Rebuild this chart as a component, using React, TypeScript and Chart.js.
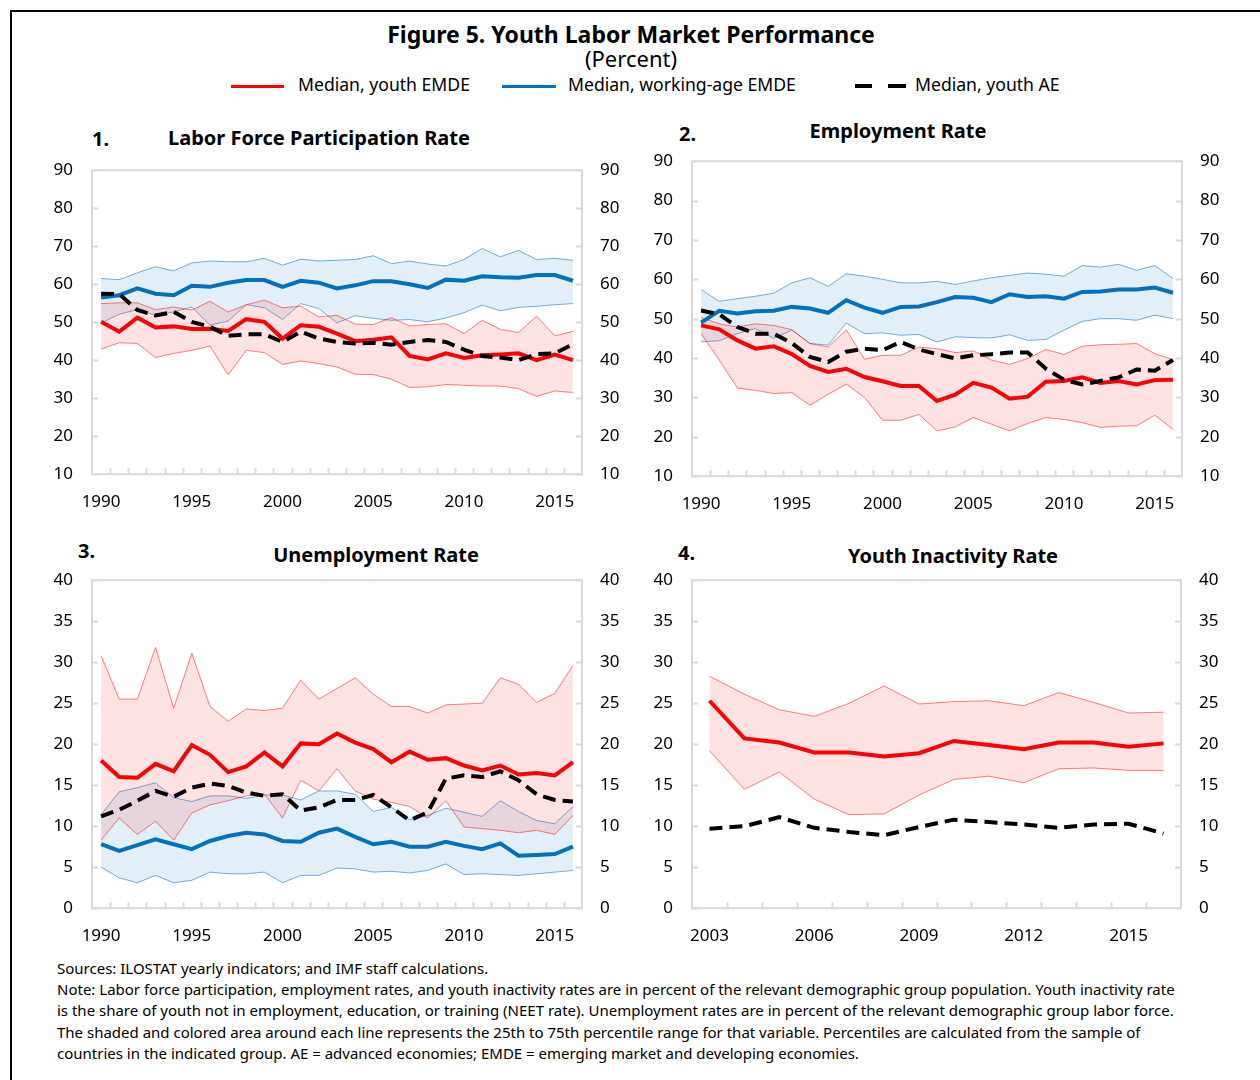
import React, { useEffect, useRef } from "react";
import { Chart, registerables } from "chart.js";
Chart.register(...registerables);

// ---------- categories ----------
const YEARS_LONG = ["1990","1991","1992","1993","1994","1995","1996","1997","1998","1999","2000","2001","2002","2003","2004","2005","2006","2007","2008","2009","2010","2011","2012","2013","2014","2015","2016"];
const YEARS_SHORT = ["2003","2004","2005","2006","2007","2008","2009","2010","2011","2012","2013","2014","2015","2016"];
const TICKS_LONG = ["1990","1995","2000","2005","2010","2015"];
const TICKS_SHORT = ["2003","2006","2009","2012","2015"];

// ---------- Panel 1: Labor force participation rate ----------
const P1_YOUTH_EMDE = [50.1,47.5,51.2,48.6,48.9,48.2,48.3,47.7,50.8,50.1,45.7,49.2,48.8,47.0,45.0,45.4,46.0,41.1,40.2,41.8,40.6,41.3,41.5,41.8,40.0,41.5,40.0];
const P1_WORKING_EMDE = [56.5,57.1,58.9,57.5,57.1,59.6,59.3,60.4,61.1,61.1,59.3,60.9,60.4,58.9,59.7,60.8,60.8,60.0,59.0,61.2,60.9,62.1,61.8,61.7,62.4,62.4,60.9];
const P1_YOUTH_AE = [57.5,57.4,53.2,51.8,52.7,50.1,48.8,46.4,46.8,46.8,44.8,47.5,45.7,44.8,44.4,44.6,44.1,44.8,45.3,44.8,42.8,41.1,40.7,40.0,41.6,41.8,44.2];
const P1_YOUTH_P75 = [54.9,55.1,55.1,53.3,54.0,53.2,55.5,52.7,54.6,55.8,53.8,54.2,51.4,51.8,49.5,49.4,51.2,49.0,49.4,49.6,47.0,50.5,48.1,47.3,51.6,46.4,47.6];
const P1_YOUTH_P25 = [42.9,44.6,44.4,40.7,41.8,42.6,43.7,36.1,42.6,42.0,38.9,39.8,39.1,38.2,36.3,36.2,35.0,32.8,33.0,33.6,33.4,33.2,33.2,32.5,30.5,31.9,31.5];
const P1_WORKING_P75 = [61.5,61.2,63.0,64.6,63.5,65.6,66.1,65.9,65.9,66.8,65.0,66.6,66.1,66.3,66.5,67.5,65.4,66.1,65.3,64.8,66.5,69.4,67.2,68.9,66.5,66.8,66.3];
const P1_WORKING_P25 = [49.8,52.1,53.3,51.8,52.7,54.0,49.2,50.3,54.6,53.8,50.7,54.9,53.6,49.8,51.7,51.0,50.5,50.7,50.1,51.1,52.5,54.5,53.0,53.9,54.2,54.6,54.9];

// ---------- Panel 2: Employment rate ----------
const P2_YOUTH_EMDE = [48.3,47.3,44.5,42.4,43.0,41.0,38.0,36.5,37.3,35.2,34.1,32.9,32.9,29.1,30.7,33.7,32.5,29.7,30.2,34.0,34.2,35.1,33.7,34.2,33.3,34.4,34.5];
const P2_WORKING_EMDE = [49.0,52.0,51.3,51.9,52.0,53.0,52.6,51.5,54.7,52.8,51.5,53.0,53.1,54.2,55.5,55.3,54.2,56.2,55.5,55.7,55.1,56.8,56.9,57.4,57.4,57.9,56.6];
const P2_YOUTH_AE = [52.1,51.1,47.9,46.2,46.2,43.8,40.3,39.0,41.6,42.4,42.0,44.1,42.2,41.0,39.9,40.7,41.0,41.4,41.4,37.3,34.5,33.3,34.2,35.1,37.1,36.8,39.5];
const P2_YOUTH_P75 = [50.3,48.7,47.9,48.7,48.3,47.2,43.7,42.8,47.2,39.7,40.7,40.7,42.8,42.4,41.4,41.8,39.5,38.4,39.9,42.2,40.9,43.0,43.4,43.5,43.7,41.1,39.6];
const P2_YOUTH_P25 = [46.2,39.5,32.4,31.8,31.0,31.2,28.0,30.8,33.4,30.0,24.2,24.2,25.7,21.5,22.5,24.9,23.2,21.5,23.4,24.9,24.4,23.6,22.4,22.7,22.8,25.5,21.9];
const P2_WORKING_P75 = [57.4,54.4,55.1,55.7,56.5,59.1,60.4,58.2,61.4,60.8,60.0,59.1,59.1,59.5,58.7,59.6,60.4,61.0,61.6,61.3,60.8,63.5,63.1,63.8,62.3,63.5,60.2];
const P2_WORKING_P25 = [44.1,44.4,46.2,47.5,45.0,47.1,43.7,43.3,48.9,46.2,46.4,45.8,46.0,44.1,45.4,45.2,45.1,45.9,44.5,44.7,47.1,49.3,50.0,50.0,49.6,50.9,50.0];

// ---------- Panel 3: Unemployment rate ----------
const P3_YOUTH_EMDE = [18.0,16.0,15.9,17.6,16.7,19.9,18.7,16.6,17.3,19.0,17.3,20.1,20.0,21.3,20.2,19.4,17.8,19.1,18.1,18.3,17.4,16.8,17.4,16.3,16.5,16.2,17.8];
const P3_WORKING_EMDE = [7.8,7.0,7.7,8.4,7.8,7.2,8.2,8.8,9.2,9.0,8.2,8.1,9.2,9.7,8.7,7.8,8.1,7.5,7.5,8.1,7.6,7.2,7.9,6.4,6.5,6.6,7.5];
const P3_YOUTH_AE = [11.2,12.0,13.1,14.3,13.6,14.7,15.2,14.9,14.1,13.7,13.9,11.9,12.3,13.2,13.2,13.8,12.3,10.7,11.7,15.8,16.2,16.0,16.7,15.6,13.9,13.2,13.0];
const P3_YOUTH_P75 = [30.8,25.5,25.5,31.8,24.4,31.1,24.6,22.8,24.3,24.1,24.4,27.8,25.5,26.8,28.1,26.1,24.6,24.6,23.8,24.8,24.9,25.0,28.1,27.3,25.1,26.2,29.6];
const P3_YOUTH_P25 = [8.3,11.0,9.0,10.6,8.3,11.6,12.6,13.1,13.7,13.9,11.0,15.6,14.3,17.0,14.3,13.3,12.9,12.4,11.0,13.1,9.9,9.7,9.5,9.2,9.5,9.0,11.3];
const P3_WORKING_P75 = [11.4,14.2,14.7,15.3,13.5,13.0,13.7,13.7,13.4,13.8,13.8,13.2,14.3,14.3,13.9,11.8,12.3,10.8,11.3,12.2,11.7,11.2,13.1,11.8,10.7,10.3,12.4];
const P3_WORKING_P25 = [5.0,3.7,3.1,4.0,3.1,3.4,4.4,4.2,4.2,4.4,3.1,4.0,4.0,4.9,4.8,4.4,4.5,4.3,4.6,5.4,4.1,4.2,4.1,4.0,4.2,4.4,4.6];

// ---------- Panel 4: Youth inactivity rate ----------
const P4_YOUTH_EMDE = [25.3,20.7,20.2,19.0,19.0,18.5,18.9,20.4,19.9,19.4,20.2,20.2,19.7,20.1];
const P4_YOUTH_AE = [9.7,10.0,11.1,9.8,9.3,8.9,9.9,10.8,10.5,10.2,9.8,10.2,10.3,9.1];
const P4_YOUTH_P75 = [28.3,26.1,24.2,23.4,25.0,27.1,24.9,25.2,25.3,24.7,26.3,25.1,23.8,23.9];
const P4_YOUTH_P25 = [19.2,14.5,16.6,13.3,11.4,11.5,13.8,15.7,16.1,15.3,17.0,17.1,16.8,16.8];

const FONT = "'Noto Sans', 'Open Sans', sans-serif";
const RED = "#FF0000";
const BLUE = "#0070C0";
const GRAY = "#D9D9D9";

const frameTicks = {
  id: "frameTicks",
  beforeDatasetsDraw(chart: any) {
    const { ctx, chartArea } = chart;
    const { left, right, top, bottom } = chartArea;
    ctx.save();
    ctx.strokeStyle = GRAY;
    ctx.lineWidth = 2;
    ctx.strokeRect(left, top, right - left, bottom - top);
    ctx.beginPath();
    const ys = chart.scales.y;
    ys.ticks.forEach((_t: any, i: number) => {
      const py = Math.round(ys.getPixelForTick(i)) + 0.5;
      ctx.moveTo(left, py);
      ctx.lineTo(left + 6, py);
      ctx.moveTo(right - 6, py);
      ctx.lineTo(right, py);
    });
    const xs = chart.scales.x;
    for (let i = 1; i < xs.ticks.length; i++) {
      const px = Math.round((xs.getPixelForTick(i - 1) + xs.getPixelForTick(i)) / 2) + 0.5;
      ctx.moveTo(px, bottom);
      ctx.lineTo(px, bottom - 6);
    }
    ctx.stroke();
    ctx.restore();
  },
};

type Band = { hi: number[]; lo: number[]; line: string; fill: string };
type PanelProps = {
  rect: { L: number; T: number; R: number; B: number };
  labels: string[];
  shown: string[];
  min: number;
  max: number;
  step: number;
  red: number[];
  blue?: number[];
  black: number[];
  bands: Band[];
};

function Panel(p: PanelProps) {
  const ref = useRef<HTMLCanvasElement>(null);
  const PADL = 60, PADR = 60, PADT = 14, PADB = 48;
  const w = p.rect.R - p.rect.L + PADL + PADR;
  const h = p.rect.B - p.rect.T + PADT + PADB;
  useEffect(() => {
    const canvas = ref.current as HTMLCanvasElement;
    const datasets: any[] = [];
    const base = { pointRadius: 0, pointHoverRadius: 0, tension: 0, fill: false };
    datasets.push({ ...base, label: "Median, youth AE", data: p.black, borderColor: "#000", borderWidth: 4, borderDash: [13, 7], order: 0 });
    datasets.push({ ...base, label: "Median, youth EMDE", data: p.red, borderColor: RED, borderWidth: 4, order: 1 });
    if (p.blue) datasets.push({ ...base, label: "Median, working-age EMDE", data: p.blue, borderColor: BLUE, borderWidth: 4, order: 2 });
    p.bands.forEach((b, k) => {
      datasets.push({ ...base, label: "p75", data: b.hi, borderColor: b.line, borderWidth: 1, fill: "+1", backgroundColor: b.fill, order: 3 + k });
      datasets.push({ ...base, label: "p25", data: b.lo, borderColor: b.line, borderWidth: 1, order: 3 + k });
    });
    const yAxis = (pos: string) => ({
      position: pos,
      min: p.min,
      max: p.max,
      grid: { display: false, drawTicks: false },
      border: { display: false },
      ticks: { stepSize: p.step, padding: pos === "left" ? 19 : 18, color: "#000", font: { family: FONT, size: 17 } },
      afterFit: (s: any) => { s.width = pos === "left" ? PADL : PADR; },
    });
    const chart = new Chart(canvas, {
      type: "line",
      data: { labels: p.labels, datasets },
      options: {
        animation: false,
        responsive: false,
        maintainAspectRatio: false,
        devicePixelRatio: 1,
        layout: { padding: { top: PADT, left: 0, right: 0, bottom: 0 } },
        plugins: { legend: { display: false }, tooltip: { enabled: false }, title: { display: false } },
        scales: {
          x: {
            type: "category",
            offset: true,
            grid: { display: false, drawTicks: false, offset: true },
            border: { display: false },
            ticks: {
              autoSkip: false,
              maxRotation: 0,
              minRotation: 0,
              padding: 18,
              color: "#000",
              font: { family: FONT, size: 17 },
              callback: (_v: any, i: number) => (p.shown.includes(p.labels[i]) ? p.labels[i] : ""),
            },
            afterFit: (s: any) => { s.height = PADB; },
          },
          y: yAxis("left"),
          y2: yAxis("right"),
        },
      } as any,
      plugins: [frameTicks],
    });
    // adjust canvas size/position so the plot area lands on the target rectangle
    let ca = chart.chartArea;
    const dw = (p.rect.R - p.rect.L) - (ca.right - ca.left);
    const dh = (p.rect.B - p.rect.T) - (ca.bottom - ca.top);
    if (Math.abs(dw) > 0.5 || Math.abs(dh) > 0.5) {
      chart.resize(w + dw, h + dh);
      ca = chart.chartArea;
    }
    canvas.style.left = p.rect.L - ca.left + "px";
    canvas.style.top = p.rect.T - ca.top + "px";
    return () => chart.destroy();
  }, []);
  return (
    <canvas
      ref={ref}
      width={w}
      height={h}
      style={{ position: "absolute", left: p.rect.L - PADL, top: p.rect.T - PADT, width: w, height: h }}
    />
  );
}

const abs = (extra: any) => ({ position: "absolute" as const, whiteSpace: "nowrap" as const, lineHeight: 1, ...extra });

function Centered({ text, cx, cy, size, bold }: { text: string; cx: number; cy: number; size: number; bold?: boolean }) {
  return (
    <div style={abs({ left: cx, top: cy - size / 2 - 1, fontSize: size, fontWeight: bold ? 700 : 400, transform: "translateX(-50%)" })}>{text}</div>
  );
}
function LeftText({ text, x, cy, size, bold }: { text: string; x: number; cy: number; size: number; bold?: boolean }) {
  return <div style={abs({ left: x, top: cy - size / 2 - 1, fontSize: size, fontWeight: bold ? 700 : 400 })}>{text}</div>;
}

const NOTES = [
  "Sources: ILOSTAT yearly indicators; and IMF staff calculations.",
  "Note: Labor force participation, employment rates, and youth inactivity rates are in percent of the relevant demographic group population. Youth inactivity rate",
  "is the share of youth not in employment, education, or training (NEET rate). Unemployment rates are in percent of the relevant demographic group labor force.",
  "The shaded and colored area around each line represents the 25th to 75th percentile range for that variable. Percentiles are calculated from the sample of",
  "countries in the indicated group. AE = advanced economies; EMDE = emerging market and developing economies.",
];
const NOTE_Y = [969, 990, 1011, 1033, 1054];

const RED_BAND = { line: "rgba(255,0,0,0.5)", fill: "rgba(255,0,0,0.11)" };
const BLUE_BAND = { line: "rgba(0,112,192,0.55)", fill: "rgba(0,112,192,0.11)" };

export default function App() {
  return (
    <div style={{ position: "fixed", left: 0, top: 0, width: 1260, height: 1080, overflow: "hidden", background: "#fff", fontFamily: FONT, color: "#000" }}>
      <div style={{ position: "absolute", left: 10, top: 10, width: 1300, height: 1100, border: "2px solid #000" }} />
      <Centered text="Figure 5. Youth Labor Market Performance" cx={631} cy={35} size={23} bold />
      <Centered text="(Percent)" cx={631} cy={59} size={22} />
      {/* legend */}
      <div style={{ position: "absolute", left: 231, top: 85, width: 53, height: 3, background: RED }} />
      <LeftText text="Median, youth EMDE" x={298} cy={86} size={17.6} />
      <div style={{ position: "absolute", left: 502, top: 85, width: 54, height: 3, background: BLUE }} />
      <LeftText text="Median, working-age EMDE" x={568} cy={86} size={17.6} />
      <div style={{ position: "absolute", left: 855, top: 84, width: 17, height: 4, background: "#000" }} />
      <div style={{ position: "absolute", left: 888, top: 84, width: 18, height: 4, background: "#000" }} />
      <LeftText text="Median, youth AE" x={915} cy={86} size={17.6} />

      {/* panel titles */}
      <LeftText text="1." x={92} cy={140} size={20} bold />
      <Centered text="Labor Force Participation Rate" cx={319} cy={139} size={20} bold />
      <LeftText text="2." x={679} cy={135} size={20} bold />
      <Centered text="Employment Rate" cx={898} cy={132} size={20} bold />
      <LeftText text="3." x={78} cy={552} size={20} bold />
      <Centered text="Unemployment Rate" cx={376} cy={556} size={20} bold />
      <LeftText text="4." x={678} cy={554} size={20} bold />
      <Centered text="Youth Inactivity Rate" cx={953} cy={557} size={20} bold />

      <Panel
        rect={{ L: 92, T: 170, R: 582, B: 474 }}
        labels={YEARS_LONG} shown={TICKS_LONG} min={10} max={90} step={10}
        red={P1_YOUTH_EMDE} blue={P1_WORKING_EMDE} black={P1_YOUTH_AE}
        bands={[{ hi: P1_YOUTH_P75, lo: P1_YOUTH_P25, ...RED_BAND }, { hi: P1_WORKING_P75, lo: P1_WORKING_P25, ...BLUE_BAND }]}
      />
      <Panel
        rect={{ L: 692, T: 161, R: 1182, B: 476 }}
        labels={YEARS_LONG} shown={TICKS_LONG} min={10} max={90} step={10}
        red={P2_YOUTH_EMDE} blue={P2_WORKING_EMDE} black={P2_YOUTH_AE}
        bands={[{ hi: P2_YOUTH_P75, lo: P2_YOUTH_P25, ...RED_BAND }, { hi: P2_WORKING_P75, lo: P2_WORKING_P25, ...BLUE_BAND }]}
      />
      <Panel
        rect={{ L: 92, T: 580, R: 582, B: 908 }}
        labels={YEARS_LONG} shown={TICKS_LONG} min={0} max={40} step={5}
        red={P3_YOUTH_EMDE} blue={P3_WORKING_EMDE} black={P3_YOUTH_AE}
        bands={[{ hi: P3_YOUTH_P75, lo: P3_YOUTH_P25, ...RED_BAND }, { hi: P3_WORKING_P75, lo: P3_WORKING_P25, ...BLUE_BAND }]}
      />
      <Panel
        rect={{ L: 692, T: 580, R: 1181, B: 908 }}
        labels={YEARS_SHORT} shown={TICKS_SHORT} min={0} max={40} step={5}
        red={P4_YOUTH_EMDE} black={P4_YOUTH_AE}
        bands={[{ hi: P4_YOUTH_P75, lo: P4_YOUTH_P25, ...RED_BAND }]}
      />

      {NOTES.map((t, i) => (
        <LeftText key={i} text={t} x={57} cy={NOTE_Y[i]} size={15} />
      ))}
    </div>
  );
}
